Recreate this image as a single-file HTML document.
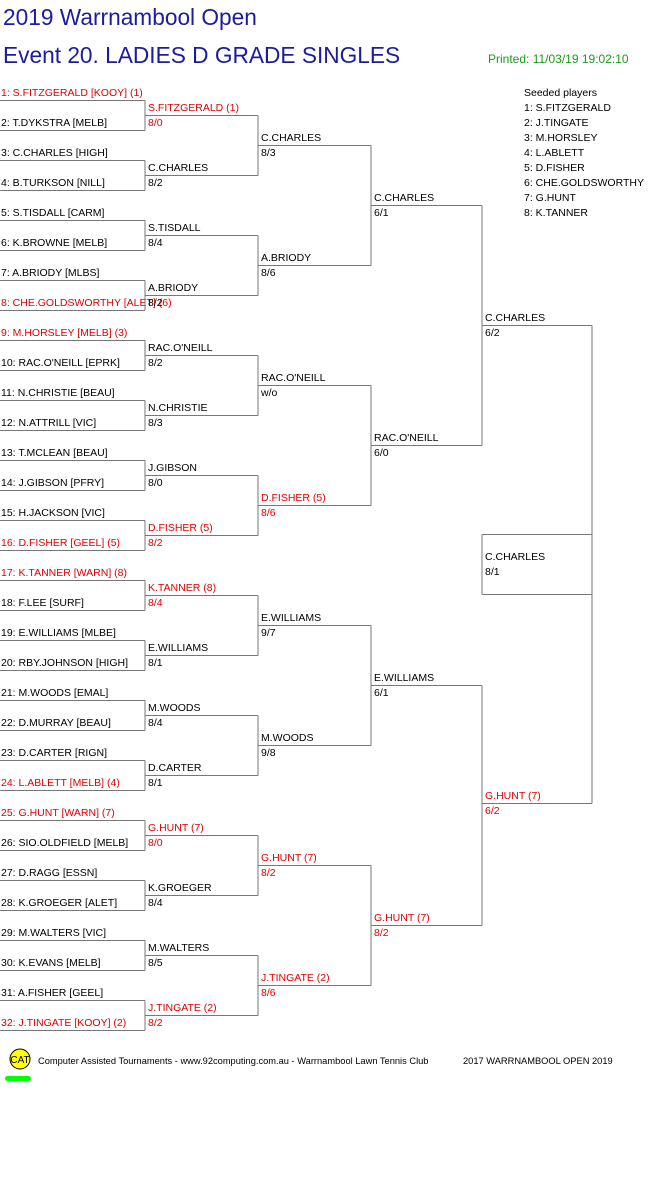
<!DOCTYPE html>
<html><head><meta charset="utf-8"><style>
html,body{margin:0;padding:0;background:#fff;width:661px;height:1196px;overflow:hidden}
svg{display:block}
text{font-family:"Liberation Sans",Arial,sans-serif;font-size:10.5px}
</style></head><body>
<svg id="s" width="661" height="1196" xmlns="http://www.w3.org/2000/svg">
<text x="3" y="25" style="font-size:22.7px" fill="#1c1c9c">2019 Warrnambool Open</text>
<text x="3" y="63" style="font-size:22.7px" fill="#1c1c9c">Event 20. LADIES D GRADE SINGLES</text>
<text x="488" y="63" style="font-size:12px" fill="#1a9a1a">Printed: 11/03/19 19:02:10</text>
<circle cx="20" cy="1059" r="10" fill="#ffff00" stroke="#000"/>
<text x="20" y="1063" text-anchor="middle" style="font-size:10px">CAT</text>
<rect x="5" y="1076" width="26" height="5" rx="2.5" fill="#00ff00"/>
<text x="38" y="1064" style="font-size:9.3px">Computer Assisted Tournaments - www.92computing.com.au -  Warrnambool Lawn Tennis Club</text>
<text x="463" y="1064" style="font-size:9.3px">2017 WARRNAMBOOL OPEN 2019</text>
</svg>
<script>
var s=document.getElementById('s'),R='#e00000',K='#000',G='#777';
function ln(x1,y1,x2,y2){var e=document.createElementNS('http://www.w3.org/2000/svg','line');e.setAttribute('x1',x1);e.setAttribute('y1',y1+.5);e.setAttribute('x2',x2);e.setAttribute('y2',y2+.5);e.setAttribute('stroke',G);s.appendChild(e);}
function tx(x,y,t,c){var e=document.createElementNS('http://www.w3.org/2000/svg','text');e.setAttribute('x',x);e.setAttribute('y',y);e.setAttribute('fill',c||K);e.textContent=t;s.appendChild(e);}
var p=["1: S.FITZGERALD [KOOY] (1)","2: T.DYKSTRA [MELB]","3: C.CHARLES [HIGH]","4: B.TURKSON [NILL]","5: S.TISDALL [CARM]","6: K.BROWNE [MELB]","7: A.BRIODY [MLBS]","8: CHE.GOLDSWORTHY [ALET] (6)","9: M.HORSLEY [MELB] (3)","10: RAC.O'NEILL [EPRK]","11: N.CHRISTIE [BEAU]","12: N.ATTRILL [VIC]","13: T.MCLEAN [BEAU]","14: J.GIBSON [PFRY]","15: H.JACKSON [VIC]","16: D.FISHER [GEEL] (5)","17: K.TANNER [WARN] (8)","18: F.LEE [SURF]","19: E.WILLIAMS [MLBE]","20: RBY.JOHNSON [HIGH]","21: M.WOODS [EMAL]","22: D.MURRAY [BEAU]","23: D.CARTER [RIGN]","24: L.ABLETT [MELB] (4)","25: G.HUNT [WARN] (7)","26: SIO.OLDFIELD [MELB]","27: D.RAGG [ESSN]","28: K.GROEGER [ALET]","29: M.WALTERS [VIC]","30: K.EVANS [MELB]","31: A.FISHER [GEEL]","32: J.TINGATE [KOOY] (2)"];
p.forEach(function(t,i){var y=100+30*i;ln(0,y,145,y);tx(1,y-4,t,/\(\d\)/.test(t)?R:K);if(i%2)ln(145,y-30,145,y);});
var rounds=[
{x:145,w:113,y0:115,d:60,m:[["S.FITZGERALD (1)","8/0"],["C.CHARLES","8/2"],["S.TISDALL","8/4"],["A.BRIODY","8/2"],["RAC.O'NEILL","8/2"],["N.CHRISTIE","8/3"],["J.GIBSON","8/0"],["D.FISHER (5)","8/2"],["K.TANNER (8)","8/4"],["E.WILLIAMS","8/1"],["M.WOODS","8/4"],["D.CARTER","8/1"],["G.HUNT (7)","8/0"],["K.GROEGER","8/4"],["M.WALTERS","8/5"],["J.TINGATE (2)","8/2"]]},
{x:258,w:113,y0:145,d:120,m:[["C.CHARLES","8/3"],["A.BRIODY","8/6"],["RAC.O'NEILL","w/o"],["D.FISHER (5)","8/6"],["E.WILLIAMS","9/7"],["M.WOODS","9/8"],["G.HUNT (7)","8/2"],["J.TINGATE (2)","8/6"]]},
{x:371,w:111,y0:205,d:240,m:[["C.CHARLES","6/1"],["RAC.O'NEILL","6/0"],["E.WILLIAMS","6/1"],["G.HUNT (7)","8/2"]]},
{x:482,w:110,y0:325,d:478,m:[["C.CHARLES","6/2"],["G.HUNT (7)","6/2"]]}];
rounds.forEach(function(r){r.m.forEach(function(m,i){var y=r.y0+r.d*i,c=/\(\d\)/.test(m[0])?R:K;ln(r.x,y,r.x+r.w,y);tx(r.x+3,y-4,m[0],c);tx(r.x+3,y+11,m[1],c);if(i%2)ln(r.x+r.w,y-r.d,r.x+r.w,y);});});
ln(482,534,592,534);ln(482,594,592,594);ln(482,534,482,594);
tx(485,560,"C.CHARLES");tx(485,575,"8/1");
var sd=["Seeded players","1: S.FITZGERALD","2: J.TINGATE","3: M.HORSLEY","4: L.ABLETT","5: D.FISHER","6: CHE.GOLDSWORTHY","7: G.HUNT","8: K.TANNER"];
sd.forEach(function(t,i){tx(524,96+15*i,t);});
</script>
</body></html>
